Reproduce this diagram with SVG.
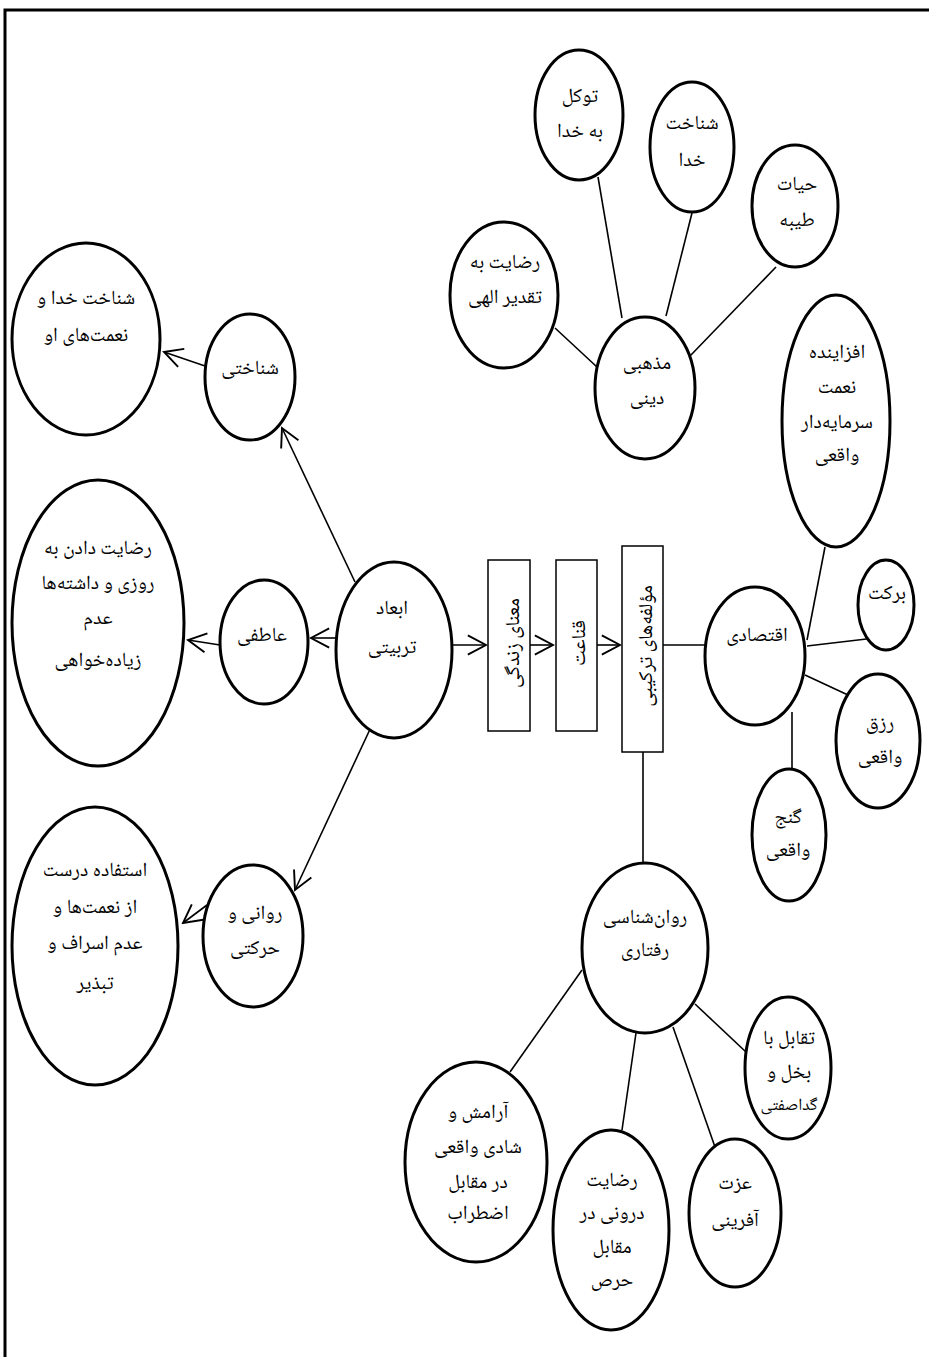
<svg xmlns="http://www.w3.org/2000/svg" width="929" height="1357" viewBox="0 0 929 1357">
<style>
.n ellipse{fill:#fff;stroke:#000;stroke-width:3}
.n rect{fill:#fff;stroke:#000;stroke-width:1.5}
text{font-family:"Noto Naskh Arabic","DejaVu Sans",sans-serif;font-size:20px;fill:#000;text-anchor:middle;direction:rtl}
text.sm{font-size:17px}
.c line{stroke:#000;stroke-width:1.6}
.frame{stroke:#000;stroke-width:3;fill:none}
</style>
<defs>
<marker id="ah" markerUnits="userSpaceOnUse" markerWidth="22" markerHeight="24" refX="19" refY="10" orient="auto" viewBox="-2 -2 23 24">
<path d="M0,0 L19,10 L0,20" fill="none" stroke="#000" stroke-width="2"/>
</marker>
</defs>
<path class="frame" d="M5,1357 L5,10 L929,10"/>
<g class="c">
<line x1="598" y1="177" x2="622" y2="318"/>
<line x1="692" y1="213" x2="666" y2="316"/>
<line x1="776" y1="267" x2="690" y2="356"/>
<line x1="555" y1="328" x2="597" y2="367"/>
<line x1="355" y1="582" x2="282" y2="428" marker-end="url(#ah)"/>
<line x1="336" y1="638" x2="311" y2="638" marker-end="url(#ah)"/>
<line x1="372" y1="725" x2="295" y2="890" marker-end="url(#ah)"/>
<line x1="205" y1="366" x2="164" y2="352" marker-end="url(#ah)"/>
<line x1="220" y1="645" x2="188" y2="640" marker-end="url(#ah)"/>
<line x1="207" y1="905" x2="183" y2="923" marker-end="url(#ah)"/>
<line x1="452" y1="645" x2="486" y2="645" marker-end="url(#ah)"/>
<line x1="530" y1="645" x2="553" y2="645" marker-end="url(#ah)"/>
<line x1="597" y1="645" x2="620" y2="645" marker-end="url(#ah)"/>
<line x1="663" y1="645" x2="706" y2="645"/>
<line x1="643" y1="752" x2="643" y2="864"/>
<line x1="825" y1="547" x2="807" y2="640"/>
<line x1="875" y1="638" x2="807" y2="646"/>
<line x1="805" y1="675" x2="848" y2="695"/>
<line x1="792" y1="712" x2="792" y2="770"/>
<line x1="695" y1="1004" x2="746" y2="1052"/>
<line x1="582" y1="970" x2="510" y2="1072"/>
<line x1="636" y1="1033" x2="622" y2="1130"/>
<line x1="673" y1="1027" x2="715" y2="1147"/>
</g>
<g id="tavakkol" class="n"><ellipse cx="579" cy="115" rx="44" ry="65"/><text x="580" y="102">توکل</text><text x="580" y="137">به خدا</text></g>
<g id="shenakht-khoda" class="n"><ellipse cx="692" cy="147" rx="42" ry="65"/><text x="692" y="129">شناخت</text><text x="692" y="166">خدا</text></g>
<g id="hayat" class="n"><ellipse cx="795" cy="206" rx="43" ry="61"/><text x="797" y="190">حیات</text><text x="797" y="226">طیبه</text></g>
<g id="rezayat-taqdir" class="n"><ellipse cx="504" cy="295" rx="54" ry="73"/><text x="505" y="268">رضایت به</text><text x="505" y="303">تقدیر الهی</text></g>
<g id="mazhabi" class="n"><ellipse cx="645" cy="388" rx="50" ry="71"/><text x="647" y="369">مذهبی</text><text x="647" y="404">دینی</text></g>
<g id="shenakhti" class="n"><ellipse cx="250" cy="377" rx="45" ry="63"/><text x="250" y="374">شناختی</text></g>
<g id="shenakht-neamat" class="n"><ellipse cx="86" cy="339" rx="74" ry="96"/><text x="86" y="304">شناخت خدا و</text><text x="86" y="341">نعمت‌های او</text></g>
<g id="atefi" class="n"><ellipse cx="264" cy="642" rx="44" ry="62"/><text x="262" y="641">عاطفی</text></g>
<g id="rezayat-rozi" class="n"><ellipse cx="98" cy="623" rx="86" ry="143"/><text x="98" y="554">رضایت دادن به</text><text x="98" y="589">روزی و داشته‌ها</text><text x="98" y="624">عدم</text><text x="98" y="666">زیاده‌خواهی</text></g>
<g id="ravani" class="n"><ellipse cx="253" cy="936" rx="50" ry="71"/><text x="255" y="919">روانی و</text><text x="255" y="954">حرکتی</text></g>
<g id="estefade" class="n"><ellipse cx="95" cy="946" rx="83" ry="139"/><text x="95" y="876">استفاده درست</text><text x="95" y="913">از نعمت‌ها و</text><text x="95" y="949">عدم اسراف و</text><text x="95" y="989">تبذیر</text></g>
<g id="abad" class="n"><ellipse cx="394" cy="650" rx="58" ry="88"/><text x="392" y="614">ابعاد</text><text x="392" y="653">تربیتی</text></g>
<g id="mana" class="n"><rect x="488" y="560" width="42" height="171"/><text transform="translate(519,643) rotate(-90)">معنای زندگی</text></g>
<g id="qanaat" class="n"><rect x="556" y="560" width="41" height="171"/><text transform="translate(585,643) rotate(-90)">قناعت</text></g>
<g id="moallefe" class="n"><rect x="622" y="546" width="41" height="206"/><text transform="translate(652,646) rotate(-90)">مؤلفه‌های ترکیبی</text></g>
<g id="eqtesadi" class="n"><ellipse cx="755" cy="656" rx="50" ry="69"/><text x="757" y="641">اقتصادی</text></g>
<g id="afzayande" class="n"><ellipse cx="836" cy="421" rx="54" ry="126"/><text x="837" y="358">افزاینده</text><text x="837" y="393">نعمت</text><text x="837" y="428">سرمایه‌دار</text><text x="837" y="461">واقعی</text></g>
<g id="barakat" class="n"><ellipse cx="886" cy="605" rx="28" ry="45"/><text x="887" y="599">برکت</text></g>
<g id="rezq" class="n"><ellipse cx="878" cy="741" rx="42" ry="67"/><text x="880" y="729">رزق</text><text x="880" y="763">واقعی</text></g>
<g id="ganj" class="n"><ellipse cx="789" cy="835" rx="37" ry="66"/><text x="788" y="823">گنج</text><text x="788" y="856">واقعی</text></g>
<g id="ravanshenasi" class="n"><ellipse cx="645" cy="948" rx="63" ry="85"/><text x="645" y="923">روان‌شناسی</text><text x="645" y="956">رفتاری</text></g>
<g id="taqabol" class="n"><ellipse cx="788" cy="1068" rx="43" ry="71"/><text x="789" y="1044">تقابل با</text><text x="789" y="1078">بخل و</text><text class="sm" x="789" y="1110">گداصفتی</text></g>
<g id="aramesh" class="n"><ellipse cx="476" cy="1162" rx="71" ry="100"/><text x="478" y="1118">آرامش و</text><text x="478" y="1153">شادی واقعی</text><text x="478" y="1188">در مقابل</text><text x="478" y="1219">اضطراب</text></g>
<g id="rezayat-darooni" class="n"><ellipse cx="611" cy="1230" rx="58" ry="100"/><text x="612" y="1186">رضایت</text><text x="612" y="1219">درونی در</text><text x="612" y="1253">مقابل</text><text x="612" y="1286">حرص</text></g>
<g id="ezzat" class="n"><ellipse cx="735" cy="1213" rx="46" ry="74"/><text x="735" y="1189">عزت</text><text x="735" y="1226">آفرینی</text></g>
</svg>
